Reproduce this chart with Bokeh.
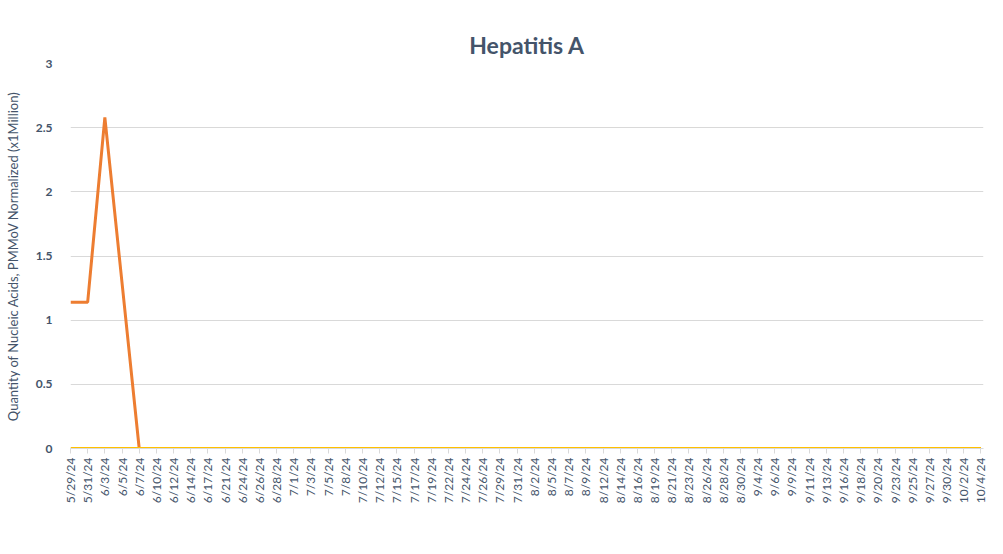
from math import pi
from bokeh.plotting import figure
from bokeh.models import Range1d, FixedTicker, NumeralTickFormatter, Legend, LegendItem
from bokeh.embed import file_html
from bokeh.resources import INLINE

dates = ["5/29/24", "5/31/24", "6/3/24", "6/5/24", "6/7/24", "6/10/24", "6/12/24", "6/14/24",
         "6/17/24", "6/21/24", "6/24/24", "6/26/24", "6/28/24", "7/1/24", "7/3/24", "7/5/24",
         "7/8/24", "7/10/24", "7/12/24", "7/15/24", "7/17/24", "7/19/24", "7/22/24", "7/24/24",
         "7/26/24", "7/29/24", "7/31/24", "8/2/24", "8/5/24", "8/7/24", "8/9/24", "8/12/24",
         "8/14/24", "8/16/24", "8/19/24", "8/21/24", "8/23/24", "8/26/24", "8/28/24", "8/30/24",
         "9/4/24", "9/6/24", "9/9/24", "9/11/24", "9/13/24", "9/16/24", "9/18/24", "9/20/24",
         "9/23/24", "9/25/24", "9/27/24", "9/30/24", "10/2/24", "10/4/24"]

zacate_creek = [1.14, 1.14, 2.58, 1.29, 0, 0, 0, 0, 0, 0, 0, 0, 0, 0, 0, 0, 0, 0,
                0, 0, 0, 0, 0, 0, 0, 0, 0, 0, 0, 0, 0, 0, 0, 0, 0, 0, 0, 0, 0, 0,
                0, 0, 0, 0, 0, 0, 0, 0, 0, 0, 0, 0, 0, 0]
south_laredo = [0, 0, 0, 0, 0, 0, 0, 0, 0, 0, 0, 0, 0, 0, 0, 0, 0, 0,
                0, 0, 0, 0, 0, 0, 0, 0, 0, 0, 0, 0, 0, 0, 0, 0, 0, 0, 0, 0, 0, 0,
                0, 0, 0, 0, 0, 0, 0, 0, 0, 0, 0, 0, 0, 0]
y_ticks = [0, 0.5, 1, 1.5, 2, 2.5, 3]

TEXT = "#44546A"
FONT = "Lato"

idx = list(range(len(dates)))

p = figure(frame_width=913, frame_height=385, output_backend="svg", toolbar_location=None,
           x_range=Range1d(0, len(dates) - 1 + 0.15), y_range=Range1d(0, 3),
           min_border_left=70, min_border_top=63, min_border_bottom=10, min_border_right=4)
p.outline_line_color = None

p.title.text = "Hepatitis A"
p.title.align = "center"
p.title.text_font = FONT
p.title.text_font_size = "23px"
p.title.text_font_style = "bold"
p.title.text_color = TEXT
p.title.offset = -24

r1 = p.line(idx, zacate_creek, line_color="#ED7D31", line_width=3)
r2 = p.line(idx, south_laredo, line_color="#FFC000", line_width=3)

# x axis
p.xaxis.ticker = FixedTicker(ticks=idx)
p.xaxis.major_label_overrides = {i: d for i, d in zip(idx, dates)}
p.xaxis.major_label_orientation = pi / 2
p.xaxis.major_label_text_font = FONT
p.xaxis.major_label_text_font_size = "12px"
p.xaxis.major_label_text_color = TEXT
p.xaxis.axis_line_color = "#D9D9D9"
p.xaxis.major_tick_line_color = "#D9D9D9"
p.xaxis.major_tick_out = 5
p.xaxis.major_tick_in = 0
p.xaxis.minor_tick_line_color = None
p.xaxis.major_label_standoff = 4

# y axis
p.yaxis.ticker = FixedTicker(ticks=y_ticks)
p.yaxis.formatter = NumeralTickFormatter(format="0.[0]")
p.yaxis.axis_label = "Quantity of Nucleic Acids, PMMoV Normalized (x1Million)"
p.yaxis.axis_label_text_font = FONT
p.yaxis.axis_label_text_font_size = "13px"
p.yaxis.axis_label_text_font_style = "normal"
p.yaxis.axis_label_text_color = TEXT
p.yaxis.axis_label_standoff = 12
p.yaxis.major_label_text_font = FONT
p.yaxis.major_label_text_font_size = "12px"
p.yaxis.major_label_text_font_style = "bold"
p.yaxis.major_label_text_color = TEXT
p.yaxis.axis_line_color = None
p.yaxis.major_tick_line_color = None
p.yaxis.minor_tick_line_color = None
p.yaxis.major_label_standoff = 12

p.xgrid.grid_line_color = None
p.ygrid.grid_line_color = "#D9D9D9"
p.ygrid.grid_line_width = 1

legend = Legend(items=[LegendItem(label="Zacate Creek Hepatitis A", renderers=[r1]),
                       LegendItem(label="South Laredo Hepatitis A", renderers=[r2])],
                orientation="horizontal", location="center",
                label_text_font=FONT, label_text_font_size="14px", label_text_font_style="bold",
                label_text_color=TEXT, glyph_width=30, label_standoff=2, spacing=31,
                border_line_color=None, background_fill_alpha=0, padding=0, margin=4)
p.add_layout(legend, "below")

open("out.html", "w").write(file_html(p, INLINE))
